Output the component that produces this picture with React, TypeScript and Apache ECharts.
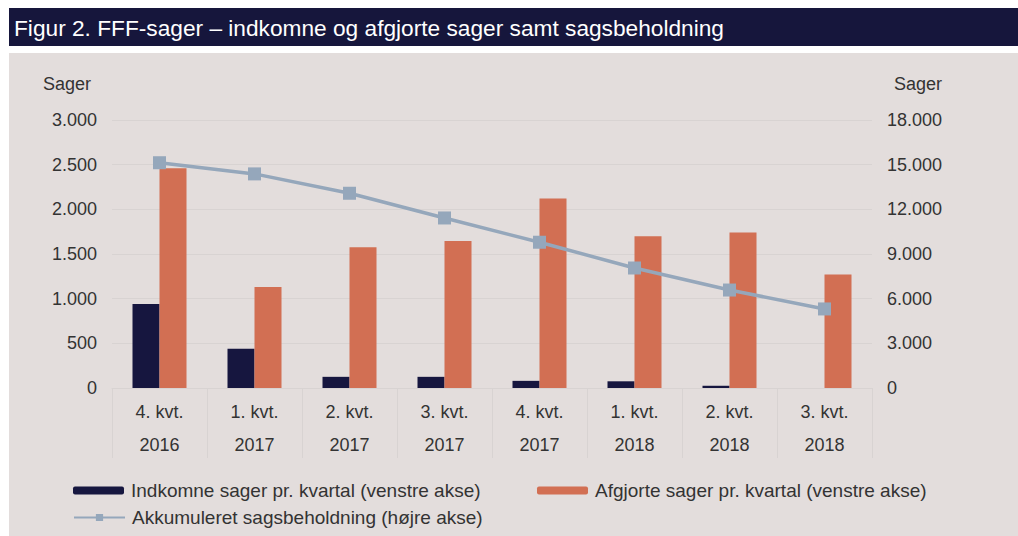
import React, { useEffect, useRef } from "react";
import * as echarts from "echarts";

const categories = ["4. kvt.\n2016", "1. kvt.\n2017", "2. kvt.\n2017", "3. kvt.\n2017", "4. kvt.\n2017", "1. kvt.\n2018", "2. kvt.\n2018", "3. kvt.\n2018"];
const indkomne = [940, 440, 125, 125, 80, 75, 25, 0];
const afgjorte = [2460, 1130, 1575, 1645, 2120, 1700, 1740, 1270];
const beholdning = [15130, 14380, 13080, 11420, 9790, 8060, 6580, 5310];
const leftTicks = { min: 0, max: 3000, interval: 500 };
const rightTicks = { min: 0, max: 18000, interval: 3000 };

const FONT = "'Liberation Sans', Arial, sans-serif";
const NAVY = "#16163f";
const ORANGE = "#d26f53";
const LINE = "#95a7bb";
const BG = "#e3dddc";
const TEXT = "#333333";
const GRID = "#d8d3d2";

const fmt = (v: number) => {
  const s = String(Math.round(v));
  return s.replace(/\B(?=(\d{3})+(?!\d))/g, ".");
};

export default function App() {
  const ref = useRef<HTMLDivElement>(null);
  useEffect(() => {
    if (!ref.current) return;
    const chart = echarts.init(ref.current, undefined, { renderer: "svg" });
    const legendText = { fontFamily: FONT, fontSize: 19, color: TEXT, padding: [0, 0, 0, 2] };
    chart.setOption({
      animation: false,
      textStyle: { fontFamily: FONT },
      graphic: [
        { type: "rect", shape: { x: 9, y: 8, width: 1009, height: 38 }, style: { fill: "#16163c" }, z: -10 },
        { type: "rect", shape: { x: 9, y: 53, width: 1009, height: 483 }, style: { fill: BG }, z: -10 },
        { type: "text", x: 14, y: 28, style: { text: "Figur 2. FFF-sager – indkomne og afgjorte sager samt sagsbeholdning", fill: "#ffffff", font: `22.7px ${FONT}`, textVerticalAlign: "middle" } },
        { type: "text", x: 67, y: 84, style: { text: "Sager", fill: TEXT, font: `18px ${FONT}`, textAlign: "center", textVerticalAlign: "middle" } },
        { type: "text", x: 918, y: 84, style: { text: "Sager", fill: TEXT, font: `18px ${FONT}`, textAlign: "center", textVerticalAlign: "middle" } },
      ],
      grid: { left: 112, right: 146, top: 120, bottom: 148, containLabel: false },
      legend: [
        { data: ["Indkomne sager pr. kvartal (venstre akse)"], left: 73, top: 481, itemWidth: 51, itemHeight: 8, itemGap: 0, textStyle: legendText, padding: 0 },
        { data: ["Afgjorte sager pr. kvartal (venstre akse)"], left: 537, top: 481, itemWidth: 51, itemHeight: 8, itemGap: 0, textStyle: legendText, padding: 0 },
        { data: ["Akkumuleret sagsbeholdning (højre akse)"], left: 73, top: 508, itemWidth: 51, itemHeight: 9, itemGap: 0, textStyle: legendText, padding: 0 },
      ],
      xAxis: {
        type: "category",
        data: categories,
        boundaryGap: true,
        axisLine: { show: true, lineStyle: { color: GRID, width: 1 } },
        axisTick: { show: true, length: 70, lineStyle: { color: GRID, width: 1 } },
        axisLabel: { color: TEXT, fontSize: 18, fontFamily: FONT, lineHeight: 33, margin: 7, interval: 0 },
      },
      yAxis: [
        {
          type: "value",
          ...leftTicks,
          axisLine: { show: false },
          axisTick: { show: false },
          splitLine: { show: true, lineStyle: { color: GRID, width: 1 } },
          axisLabel: { color: TEXT, fontSize: 18, fontFamily: FONT, margin: 15, formatter: fmt },
        },
        {
          type: "value",
          ...rightTicks,
          position: "right",
          axisLine: { show: false },
          axisTick: { show: false },
          splitLine: { show: false },
          axisLabel: { color: TEXT, fontSize: 18, fontFamily: FONT, margin: 15, formatter: fmt },
        },
      ],
      series: [
        {
          name: "Indkomne sager pr. kvartal (venstre akse)",
          type: "bar",
          data: indkomne,
          barWidth: 27,
          barGap: "0%",
          itemStyle: { color: NAVY },
        },
        {
          name: "Afgjorte sager pr. kvartal (venstre akse)",
          type: "bar",
          data: afgjorte,
          barWidth: 27,
          barGap: "0%",
          itemStyle: { color: ORANGE },
        },
        {
          name: "Akkumuleret sagsbeholdning (højre akse)",
          type: "line",
          yAxisIndex: 1,
          data: beholdning,
          symbol: "rect",
          symbolSize: 13,
          lineStyle: { color: LINE, width: 3.5 },
          itemStyle: { color: LINE },
          z: 5,
        },
      ],
    });
    return () => chart.dispose();
  }, []);
  return <div ref={ref} style={{ position: "fixed", left: 0, top: 0, width: 1018, height: 536, background: "#ffffff" }} />;
}
